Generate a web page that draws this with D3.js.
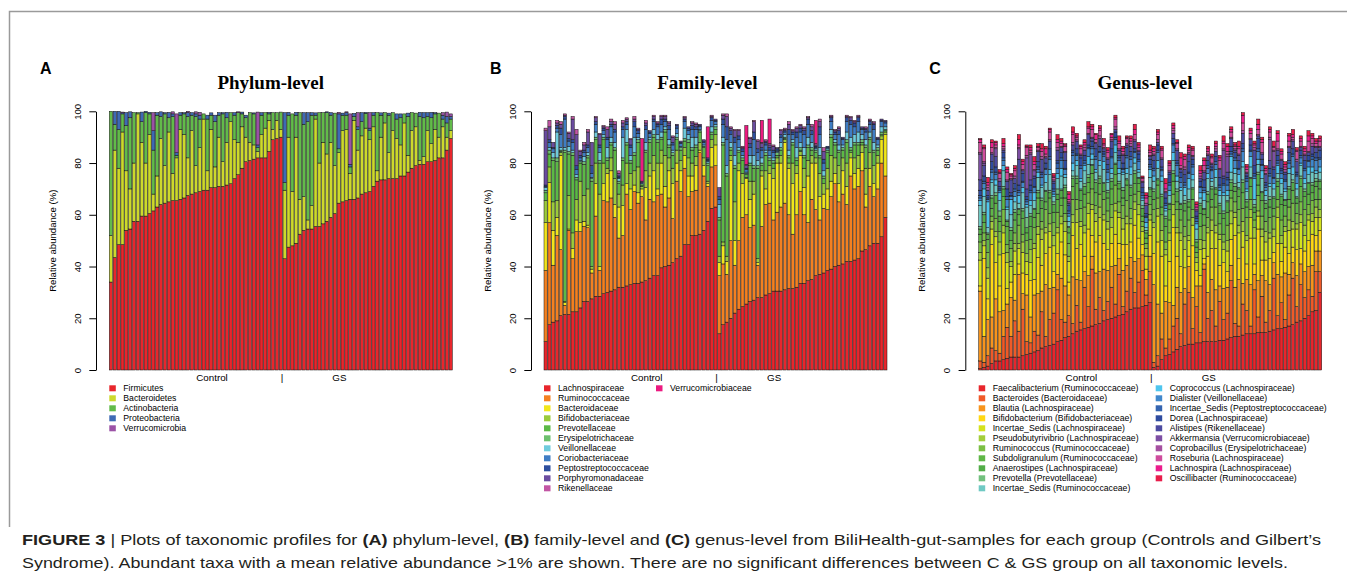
<!DOCTYPE html>
<html><head><meta charset="utf-8">
<script src="https://cdn.jsdelivr.net/npm/d3@7"></script>
<style>html,body{margin:0;padding:0;background:#fff;}svg{display:block;}</style>
</head><body><svg id="fig" width="1347" height="581"></svg>
<script>
// ---------------- DATA ----------------
const nControl = 45, nGS = 44;
const yTicks = [0, 20, 40, 60, 80, 100];
const groupLabels = ["Control", "|", "GS"];

// Panel A: phylum
const phylumNames = ["Firmicutes","Bacteroidetes","Actinobacteria","Proteobacteria","Verrucomicrobia"];
const phylumColors = ["#E8262C","#CDD92C","#62BB4A","#3E6AB5","#9B52A6"];
const firmicutes = [34,43.5,48.5,48.5,54,54.5,57.5,57.5,59.5,59.5,60.5,61.5,63,64,64.5,65,65.5,65.5,66,66.5,67.5,68,68.5,69,69.5,69.5,70.5,70.5,71,71,71.5,72,74,75.5,78,80.5,81,81.5,82,82,82,84.5,89,89.5,90,
 43,47.5,48,49,52.5,54,54.5,54.5,55.5,55.5,56.5,57.5,59,60.5,64.5,65,65.5,66,66,66.5,68,68.5,69,71,73,73.5,73.5,74,74,74,75,75,76.5,78,79,79.5,79.5,80.5,80.5,81,82,82,85,89.5];
const bacteroidetes = [18,41.5,29.5,43.5,23,15.5,22.5,41.5,28.5,20.5,30.5,6.5,12,25.5,14.5,27,10.5,16.5,27,24.5,14.5,24.5,10.5,17,27.5,7.5,22.5,8,19,9.5,16.5,24,15,12.5,16,9.5,7,5.5,2.5,9,11.5,12,4,7,3,
 26.5,42.5,21,41,13.5,13,3.5,9,41.5,24.5,31.5,26,29,18.5,19.5,27.5,27.5,10,30.5,18.5,22.5,25,20,23,4,16.5,22,10,18.5,15.5,12,20.5,6.5,14.5,15,1.5,3,12,7,12,8,12,5,3];
const actinobacteria = [48,10,15,7,17.5,27.5,19.5,0.5,8,19.5,8,17,23.5,8.5,20,5.5,22,1,5.5,8,16,6,19,11,2,20,5.5,17.5,8.5,18.5,9.5,3.5,9.5,11.5,5,7.5,11.5,12,1.5,7.5,6,2.5,6.5,3,6.7,
 3,8.5,30,8.5,33.5,28,38,35,1.5,19.5,11.5,16,10.5,20.3,1.5,6,5.5,2.5,1.5,8,5.5,5.7,3.5,4.5,22.5,8.5,4,14.5,7,7.5,10.5,3.5,15,7,5.3,17,15,5.5,10,6,9.3,3,5.5,4.5];
const proteobacteria = [0,5,7,0.5,5,2.3,0,0,3.7,0.5,0.6,7.5,1,1.8,0.5,2.1,1,1,1,0.5,1.5,1,1,1.5,0,1.5,0.9,2.5,1,0.5,2.1,0,1,0,0.7,1,0,0.4,1,1,0,0.6,0,0,0,
 27,1.1,0,1.1,0,4.5,3.5,1,0.9,0,0,0.3,1,0,13.5,0.8,1,1,1.2,1,3.5,0.4,1,1,0,0.9,0,0.8,0,2,1.5,0,1.3,0,0,1.6,2,1.5,2.1,0.5,0,1.5,2.5,1];
const verrucomicrobia = [0,0,0,0.2,0,0,0,0,0,0,0,7,0,0,0,0,0.8,15,0,0,0.5,0,0.8,1.1,0,0,0,0,0,0,0,0,0,0.3,0,0,0,0,12.7,0,0,0,0,0,0,
 0,0,0,0,0,0,0,0,0,0,0,0,0,0,0.6,0,0.3,19.5,0,5.5,0,0,6,0,0,0,0,0,0,0,0,0,0,0,0,0,0,0,0,0,0,1,1.7,1];

// Panel B: family
const familyNames = ["Lachnospiraceae","Ruminococcaceae","Bacteroidaceae","Bifidobacteriaceae","Prevotellaceae","Erysipelotrichaceae","Veillonellaceae","Coriobacteriaceae","Peptostreptococcaceae","Porphyromonadaceae","Rikenellaceae","Verrucomicrobiaceae"];
const familyColors = ["#E8262C","#F48021","#F1E61B","#9BCB3B","#5CB946","#6DC06E","#6FCBDC","#3F7DC4","#2D4E9E","#6B4CA0","#C255A4","#EC1A80"];
const lachnospiraceae = [11,17.5,18.5,19,21,21.5,21.5,22.5,22.5,24,26.5,26.5,27.5,28.5,28.5,29.5,30,30.5,31,32,32,32.5,33,33.5,33.5,34,34.5,35.5,36.5,36.5,39.5,40,40.5,41.5,43,44,48.5,48.5,52,52,52.5,54,57.5,62.5,63,
 14,17.5,18.5,20,22,23.5,24.5,25.5,26.5,27,28,28,29,29.5,30.5,30.5,30.5,31,31.5,31.5,32,33.5,33.5,34.5,35,36.5,37,37.5,38.5,39,40,40.5,41,42,42,42.5,43,46,46.5,48,49,49,51.5,59];
const ruminococcaceae = [27.5,39.5,22,33,25.5,3.5,32.5,20.5,31,29.5,29,28.5,10,31,10,36,35,36,28,19,20,35.5,29,35.5,31,33,23.5,30.5,28.5,31,28.5,23,26,17,30,25,29.5,18.5,17,17.5,31.5,21,13.5,16,16,
 22.5,23.5,18.5,30,18.5,26.5,34.5,34.5,28.5,29,12.5,27.5,35,35,27.5,30.5,32.5,33.5,28.5,21,28,35.5,26.5,22.5,31,25.5,21,25,23.5,28,32,24.5,27,22,33,27.5,28,31,16.5,23,18,21,28.5,16];
const bacteroidaceae = [18.5,15.5,13.5,7,36.5,1,0.5,4,4.5,3.5,2,1,1.5,12.5,1.5,6.5,11,10.5,5,12,11.5,4,8,2.5,4,3,12.5,9,12,2.5,12,8,10.5,13.5,7,8,5,8,6,9.5,1,4,1,7.5,8,
 5,7,5,31,9.5,27,13,14,11,12,1,19.5,6,11.5,16,19,17,23.5,18,19.5,16,14,10.5,18,14,18,9,5.5,8,6,4,7,9,7,7,6,7,7,5,7,5,10,9,16];
const bifidobacteriaceae = [8.5,6,11,6.5,1,0.5,13,6,8,16,10,14,1,8,28,8,2,5,10,5,8,8,6,5.5,10,1,6.5,5,6,10,5,12,5,6,5,4,3,7,5,3.5,3,3,1,3,4,
 2.5,1.5,2,2,15,3,4,0.5,7,5,1.5,2,7,3,4,2,3,1,2,8,3,1.5,7.5,6,3,2,9,4,8,10,6,7,5,9,2,6,5,3,10,6,7,3,1.5,1];
const prevotellaceae = [3,5,16,15,0.5,57.5,16,30,7.5,7,12,12,33,9,12,9,3,5,11,4,9.5,7,4,6,9.5,0.5,7,8,7,8,4,9,4,5,4,4,2.5,6,5,3.5,4,4,6,2,2,
 14,37.5,31,2,13,4,5,1,6,5,35,2,6,2,2,1,2,0.5,2,7,2,0.5,4,5,2,2,6,2,6,7,5,5,3,8,1,5,4,1,8,5,5,2,0.5,0.5];
const erysipelotrichaceae = [1,1.5,1,1.5,0.5,1,1,1,1,0.5,1,1,1,1,1,1,1,1,1,1,1,1,1,1,1,0.5,1,1,1,1,1,1,1,1,1,1,1,1,1,1,0.5,0.5,1,1,1,
 1,1,1,1,1,1,1,0.5,1,1,1,1,1,1,1,1,1,0.5,1,1,1,1,1,1,1,1,1,1,1,1,1,1,1,1,1,1,1,1,1,1,1,1,1,0.5];
const veillonellaceae = [1,1,2,10,1,1,2,1,1,0.5,2,1,0.5,2,3,1,4,2,2,1,8,5,2,6,1,0,3,1,2,2,2,1,2,1,1.5,0.5,4,2,4,3,0.5,0.5,0.5,2,1,
 5,2,3,2,4,1,1,0.5,3,4,2,2,1,1,1,0.5,2,1,2,1,4,2,3,3,2,0.5,3,2,0.5,2,1,2,1,3,4,3,4,2,2,2,3,1,2,1];
const coriobacteriaceae = [0.5,2,1.5,1.5,5,11,2,3,2,1,1.5,2,1.5,3,2,1.5,3,4,4,0.5,3,2,3,4,1.5,0.5,5,1.5,3,3,3,2,4,2,2,1,2.5,1.5,3,3,1,1,0.5,2.5,1,
 2,5,10,3,5,3,1.5,1,3,6,3,3,2,2,2,0.5,2,1,6,2,4,4,5,5,3,0.5,5,3,0.5,3,2,4,2,4,5,3,4,2,3,3,5,2,2,1.5];
const peptostreptococcaceae = [0.5,1,0.5,1,2.5,1,1,1,1.5,1,1,1,3,1,1,1,1,1,1,0.5,1,1,1,2,1,0,1.5,0.5,1,1,2,1,1.5,1,1,0.5,1,1,1.5,1,0.5,0.5,0.5,1,0.5,
 1,2,5,1.5,2,1.5,1,0.5,1.5,3,1.5,1,1,1,1,0.5,1,0.5,2,1,2,1.5,1.5,2,1.5,0.5,3,1.5,0.5,1.5,1,1.5,0.5,1.5,1.5,1.5,1.5,0.5,1,1,2,0.5,0.5,0.5];
const porphyromonadaceae = [21,5,2,1,1.5,0.5,2,8,12,1.5,2,5,9,1.5,4,0.5,3,1,2,1,1.5,1,2,1,0.5,0.5,1,0.5,1,0.5,1,1,1,2,0.5,0.5,0.5,0.5,1,1,0.5,0.5,0.5,0.5,0.5,
 3.5,1.5,4,1,2.5,2,0.5,1,2,4,3,1.5,0.5,1,1.5,0.5,1.5,0.5,2,0.5,1.5,1,1,0.5,1.5,0.5,2,3,0,0.5,0.5,1,0.5,0.5,1,0.5,0.5,0.5,0.5,0.5,0.5,0.5,0.5,0.5];
const rikenellaceae = [1,2.5,0,1,1,0.5,0.5,1,2,0.5,1,1,0,0.5,0.5,0.5,1,1,1,1,1,0.5,0.5,1,0.5,0,1,0,0.5,0.5,0.5,0.5,0.5,0.5,0,0,0.5,0,0.5,0.5,0,0,0,0.5,0,
 0,0.5,1,0.5,0.5,0.5,0.5,0.5,0.5,0.5,0.5,0.5,0.5,0.5,0.5,0,0.5,0.5,1,0.5,0.5,0.5,0.5,0.5,1,0.5,1,1.5,0,0.5,0.5,0.5,0,0.5,0.5,0.5,0.5,0,0.5,0.5,0.5,0,0,0];
const verrucomicrobiaceae = [0,0,0,0,0,0,0,0,0,0,0,0,0,0,0,0,0,0,0,0,0,0,0,0,0,16.5,0,0,0,0,0,0,0,0,0,0,0,0,0,0,0,0,12,0,0,
 0,0,0,0,0,0,0,15,0,0,0,8.5,0,9.5,0,0,0,0,0,0,0,0,0,0,0,9,0,0,0,0,0,0,0,0,0,0,0,0,0,0,0,0,0,0];

// Panel C: genus
const genusNames = ["Faecalibacterium (Ruminococcaceae)","Bacteroides (Bacteroidaceae)","Blautia (Lachnospiraceae)","Bifidobacterium (Bifidobacteriaceae)","Incertae_Sedis (Lachnospiraceae)","Pseudobutyrivibrio (Lachnospiraceae)","Ruminococcus (Ruminococcaceae)","Subdoligranulum (Ruminococcaceae)","Anaerostipes (Lachnospiraceae)","Prevotella (Prevotellaceae)","Incertae_Sedis (Ruminococcaceae)","Coprococcus (Lachnospiraceae)","Dialister (Veillonellaceae)","Incertae_Sedis (Peptostreptococcaceae)","Dorea (Lachnospiraceae)","Alistipes (Rikenellaceae)","Akkermansia (Verrucomicrobiaceae)","Coprobacillus (Erysipelotrichaceae)","Roseburia (Lachnospiraceae)","Lachnospira (Lachnospiraceae)","Oscillibacter (Ruminococcaceae)"];
const genusColors = ["#E8262C","#F05A28","#F7941D","#FFD814","#D4E21E","#A3CE3A","#7BBF44","#5FB747","#52AD48","#72C07E","#6FC9C3","#4EC5EE","#4088CC","#3464B0","#2E4B9F","#4C4AA0","#7D4EA3","#A54FA0","#CF4C9D","#EC1C8C","#E81D4B"];
const faecalibacterium = [0.5,1,1.5,2.5,3.5,3.5,4,4.5,5,5,5,5.5,6,6.5,7,7.5,8.5,9,9.5,10,11,11.5,12.5,13,14,15,15.5,16,16.5,17,17.5,18,19,19.5,20,20.5,21,21.5,22.5,23.5,24,24,24.5,25,26,
 1,1.5,4,5.5,6,7,8,9,9.5,10,10,10.5,10.5,11,11,11,11,11.5,11.5,12,12.5,13,13,13.5,14,14,14,14.5,14.5,14.5,15,15.5,16,16,16.5,17,17.5,18.5,19,20,21,22.5,23,30];
const bacteroides = [3,2,4,6,4,3,9,12,8,14,10,18,5,4,8,6,14,4,10,12,20,8,6,8,4,10,3,16,8,22,6,10,4,7,12,5,16,3,8,12,6,10,14,4,12,
 2,4,8,3,6,10,12,5,16,20,6,14,4,28,9,12,6,15,8,10,22,5,4,12,9,3,17,6,14,4,8,20,5,10,3,12,18,6,14,8,10,6,15,8];
const blautia = [27,10,14,12,20,16,10,9,15,8,22,6,18,10,14,16,8,20,12,10,6,16,14,8,18,10,16,6,12,5,14,10,16,12,8,15,6,14,10,8,12,9,6,6,6,
 30,20,10,18,14,8,12,16,6,10,12,8,18,2,10,12,14,6,12,10,6,14,18,8,12,16,6,14,8,16,10,6,16,10,18,8,6,12,8,10,9,12,8,8];
const bifidobacterium = [2,30,8,28,14,10,22,6,6,10,4,8,8,14,6,14,10,12,16,6,8,14,12,5,16,12,14,6,18,8,12,14,10,8,9,12,6,10,8,6,14,8,4,4,8,
 12,24,22,6,16,30,12,10,8,4,20,6,4,2,14,12,16,8,10,6,10,20,8,14,6,18,4,20,6,8,10,4,12,6,10,8,6,10,6,8,10,12,6,8];
const incertaeLachno = [10,5,8,6,10,12,8,10,6,9,6,8,5,7,12,9,10,8,6,10,8,7,9,8,5,10,7,9,6,10,8,7,9,8,6,9,10,6,8,7,6,9,5,5,6,
 10,10,6,12,8,5,9,10,7,6,8,3,10,4,9,7,6,10,5,8,6,7,10,6,9,8,10,5,9,7,8,6,10,7,6,9,7,8,10,6,8,5,7,5];
const pseudobutyrivibrio = [3,2,4,3,2,5,3,4,2,3,2,4,3,5,2,3,4,2,3,4,2,3,4,2,3,5,2,3,4,2,3,4,2,3,4,3,2,4,3,2,3,4,2,3,2,
 2,3,4,2,3,4,2,3,5,2,3,2,4,3,2,4,3,2,3,4,5,2,3,4,2,3,4,2,3,4,2,3,4,3,2,4,3,2,3,4,2,3,4,3];
const ruminococcus = [4,3,6,2,5,4,6,3,5,4,7,3,5,4,6,5,3,7,4,5,6,4,3,5,6,4,5,7,4,6,3,5,6,4,5,7,4,5,6,4,3,5,2,2,4,
 5,4,6,3,5,4,7,5,4,6,3,2,5,6,4,5,7,4,3,6,5,4,6,5,7,4,3,6,5,4,6,5,3,6,4,5,7,4,5,6,4,5,3,4];
const subdoligranulum = [3,4,5,3,6,4,5,7,3,5,4,6,3,5,4,6,5,3,6,4,5,3,6,4,5,6,3,5,4,6,5,4,3,5,6,4,5,3,6,5,4,3,2,2,3,
 4,5,3,6,4,5,3,4,6,5,4,2,5,4,6,3,5,4,6,5,3,4,5,6,4,5,3,4,6,5,4,3,5,6,4,3,5,4,6,5,4,3,5,4];
const anaerostipes = [2,3,2,4,3,2,3,2,4,3,2,3,2,4,3,2,3,4,2,3,2,3,4,2,3,2,4,3,2,3,4,2,3,2,3,4,2,3,2,3,4,2,3,2,3,
 3,2,4,3,2,3,4,2,3,2,4,2,3,2,3,4,2,3,2,4,3,2,3,4,2,3,2,4,3,2,3,4,2,3,2,4,3,2,3,2,4,3,2,3];
const prevotella = [1,1,0.5,1,1,2,1,0.5,1,1,0.5,1,4,1,0.5,1,1,0.5,1,1,2,0.5,1,0.5,1,1,0.5,1,1,0.5,1,1,0.5,1,1,0.5,1,1,0.5,1,1,0.5,1,1,0.5,
 1,0.5,1,1,0.5,1,1,0.5,1,1,0.5,1,1,0.5,1,1,0.5,1,1,0.5,1,1,0.5,1,1,0.5,1,1,0.5,1,1,0.5,1,1,0.5,1,1,0.5,1,1,0.5,1,1,0.5];
const incertaeRumino = [8,6,2,5,3,4,6,4,5,3,2,6,4,3,3,5,4,3,6,2,4,5,3,2,2,4,3,5,4,2,3,4,5,3,2,4,3,5,2,4,3,2,2,1,4,
 3,4,5,2,3,4,3,5,2,4,3,4,2,3,5,2,4,3,6,2,3,4,2,5,3,4,2,3,5,2,4,3,2,4,3,5,2,3,4,2,3,4,2,3];
const coprococcus = [2,3,10,1,2,3,2,1,6,2,3,2,1,2,3,2,1,3,2,1,2,3,1,2,3,2,1,2,3,2,1,2,3,1,2,3,2,1,2,3,2,1,1,2,3,
 2,3,2,1,2,3,2,1,3,4,2,2,2,3,2,1,3,2,1,2,6,2,3,2,1,4,8,2,3,2,1,2,3,2,1,2,3,2,1,2,3,2,1,2];
const dialister = [1,2,1,3,2,1,2,3,1,2,1,2,1,3,2,1,3,2,4,1,2,3,2,1,3,2,4,1,3,2,4,3,2,3,4,2,3,1,4,3,2,3,1,2,1,
 2,3,2,1,2,3,4,2,1,2,3,1,2,1,2,3,2,1,3,2,1,3,2,4,3,2,1,3,2,1,3,2,1,2,3,2,4,3,2,3,2,3,4,3];
const incertaePepto = [1,1,0.5,1,1,0.5,1,1,0.5,1,1,0.5,1,1,0.5,1,1,0.5,1,1,2,1,0.5,1,1,0.5,1,1,0.5,1,1,0.5,1,1,0.5,1,1,0.5,1,1,0.5,1,1,0.5,1,
 1,1,0.5,1,1,0.5,1,2,1,0.5,1,1,0.5,1,1,0.5,1,1,0.5,2,1,1,0.5,1,1,0.5,1,1,0.5,1,1,0.5,1,1,0.5,1,1,0.5,1,1,0.5,1,1,0.5];
const dorea = [2,2,1,3,2,1,2,3,1,2,2,3,1,2,3,2,1,2,3,2,1,2,3,2,1,2,3,2,1,2,3,2,1,2,3,2,1,2,3,2,1,2,2,1,2,
 3,2,1,2,3,2,1,2,3,4,2,1,2,3,2,1,2,3,2,1,2,2,3,2,1,2,3,4,2,1,2,3,2,1,2,3,2,1,2,3,2,1,2,3];
const alistipes = [4,4,2,3,4,2,1,3,5,2,10,1,3,2,1,4,5,2,3,1,4,2,3,1,2,3,1,2,4,1,2,3,1,2,3,1,2,3,1,2,3,1,2,3,1,
 2,1,3,2,1,2,4,1,2,3,1,2,1,3,2,1,2,3,1,2,3,1,2,4,1,2,6,1,2,3,3,1,2,3,1,2,3,4,1,2,1,3,2,1];
const akkermansia = [10,1,0,0,3,0,0,0,0,0,4,0,12,10,2,0,0,0,0,0,0,0,0,0,0,0,0,0,0,0,0,0,0,0,0,0,0,0,0,0,0,0,0,0,0,
 0,0,0,0,0,0,0,0,0,0,0,0,0,0,0,0,0,0,10,6,0,0,0,0,0,0,0,0,0,0,8,6,0,0,0,0,0,0,0,0,0,0,0,0];
const coprobacillus = [0.5,0.5,1,0.5,0.5,1,0.5,0.5,0.5,1,0.5,0.5,1,0.5,0.5,0.5,1,0.5,0.5,0.5,1,0.5,0.5,0.5,1,0.5,0.5,1,0.5,0.5,0.5,1,0.5,0.5,0.5,1,0.5,0.5,0.5,1,0.5,0.5,0.5,1,0.5,
 0.5,1,0.5,0.5,0.5,1,0.5,0.5,1,0.5,0.5,0.5,1,0.5,0.5,0.5,1,0.5,0.5,1,0.5,0.5,0.5,1,0.5,0.5,1,0.5,0.5,0.5,1,0.5,0.5,0.5,1,0.5,0.5,1,0.5,0.5,0.5,1,0.5,0.5];
const roseburia = [4,5,1,2,1,2,1,3,1,2,1,2,3,1,2,1,2,1,3,1,2,1,2,1,3,1,2,1,2,3,1,2,1,2,1,3,2,1,2,1,2,1,1,2,1,
 1,2,3,1,2,1,2,1,3,1,2,1,1,2,1,2,1,3,2,1,2,1,2,3,1,2,1,2,4,1,2,1,3,2,1,2,1,3,2,1,4,2,1,2];
const lachnospira = [1,0.5,1,2,1,0.5,1,1,0.5,1,2,1,0.5,1,1,0.5,1,2,1,0.5,1,1,0.5,2,1,0.5,1,1,0.5,1,2,1,0.5,1,1,0.5,1,1,0.5,1,2,1,0.5,1,1,
 1,1,0.5,2,1,1,0.5,3,1,1,0.5,1,1,2,1,0.5,1,1,1,2,1,0.5,1,3,1,1,0.5,2,1,1,1,0.5,3,1,1,2,1,0.5,1,1,2,1,1,1];
const oscillibacter = [0.5,1,2,1,0.5,1,2,1,0.5,1,2,1,0.5,1,2,1,2,1,0.5,1,2,1,0.5,1,2,1,0.5,1,2,1,0.5,1,2,1,0.5,1,2,1,0.5,1,2,1,0.5,1,2,
 1,1,1,2,1,1,1,2,1,1,1,1,2,1,1,1,1,1,2,1,1,1,2,1,1,1,1,2,1,1,1,2,1,1,1,1,2,1,1,1,2,1,1,1];

const captionLine1 = [["FIGURE 3",true],[" | Plots of taxonomic profiles for ",false],["(A)",true],[" phylum-level, ",false],["(B)",true],[" family-level and ",false],["(C)",true],[" genus-level from BiliHealth-gut-samples for each group (Controls and Gilbert\u2019s",false]];
const captionLine2 = [["Syndrome). Abundant taxa with a mean relative abundance >1% are shown. There are no significant differences between C & GS group on all taxonomic levels.",false]];

// ---------------- DRAWING ----------------
const sampleIds = d3.range(nControl).map(i => "C" + (i + 1)).concat(d3.range(nGS).map(i => "GS" + (i + 1)));
const SANS = "'Liberation Sans', Arial, Helvetica, sans-serif";
const svg = d3.select("#fig");
svg.append("rect").attr("width", 1347).attr("height", 581).attr("fill", "#fff");
svg.append("path").attr("d", "M9.5,527V11.5H1347").attr("fill", "none").attr("stroke", "#9a9a9a").attr("stroke-width", 1.5);

const panels = [
  { letter: "A", title: "Phylum-level", names: phylumNames, colors: phylumColors,
    series: [firmicutes, bacteroidetes, actinobacteria, proteobacteria, verrucomicrobia],
    letterX: 40, axisX: 96, x0: 109.3, x1: 452.3, titleX: 270.7, col1: 11, col2dx: 112 },
  { letter: "B", title: "Family-level", names: familyNames, colors: familyColors,
    series: [lachnospiraceae, ruminococcaceae, bacteroidaceae, bifidobacteriaceae, prevotellaceae, erysipelotrichaceae, veillonellaceae, coriobacteriaceae, peptostreptococcaceae, porphyromonadaceae, rikenellaceae, verrucomicrobiaceae],
    letterX: 490, axisX: 531, x0: 544, x1: 887, titleX: 707.3, col1: 11, col2dx: 112 },
  { letter: "C", title: "Genus-level", names: genusNames, colors: genusColors,
    series: [faecalibacterium, bacteroides, blautia, bifidobacterium, incertaeLachno, pseudobutyrivibrio, ruminococcus, subdoligranulum, anaerostipes, prevotella, incertaeRumino, coprococcus, dialister, incertaePepto, dorea, alistipes, akkermansia, coprobacillus, roseburia, lachnospira, oscillibacter],
    letterX: 929.3, axisX: 965.3, x0: 978.7, x1: 1321.7, titleX: 1145, col1: 11, col2dx: 177 }
];

const y = d3.scaleLinear().domain([0, 100]).range([370, 111.3]);
const groupPos = [26.6, 44.7, 59.6]; // in bar steps from left edge

panels.forEach(p => {
  const g = svg.append("g");
  const rows = sampleIds.map((id, i) => { const r = { id }; p.names.forEach((k, j) => r[k] = p.series[j][i]); return r; });
  const stacked = d3.stack().keys(p.names)(rows);
  const x = d3.scaleBand().domain(sampleIds).range([p.x0, p.x1]).paddingInner(0.17).paddingOuter(0);

  g.selectAll("g.layer").data(stacked).join("g").attr("class", "layer")
    .attr("fill", (d, i) => p.colors[i])
    .selectAll("rect").data(d => d.filter(s => s[1] - s[0] > 0)).join("rect")
    .attr("x", d => x(d.data.id)).attr("width", x.bandwidth())
    .attr("y", d => y(d[1])).attr("height", d => y(d[0]) - y(d[1]))
    .attr("stroke", "#111").attr("stroke-width", 0.5);

  // y axis
  const ag = g.append("g").attr("transform", `translate(${p.axisX},0)`)
    .call(d3.axisLeft(y).tickValues(yTicks).tickSize(6.7).tickSizeOuter(0));
  ag.select(".domain").attr("stroke", "#000");
  ag.selectAll(".tick line").attr("stroke", "#000");
  ag.selectAll(".tick text").attr("transform", "rotate(-90)").attr("x", 0).attr("y", -15.5)
    .attr("dy", "0").attr("text-anchor", "middle").attr("fill", "#000")
    .style("font-family", SANS).style("font-size", "9.6px");
  g.append("text").attr("transform", `translate(${p.axisX - 40},${(y(0) + y(100)) / 2}) rotate(-90)`)
    .attr("text-anchor", "middle").attr("font-family", SANS).attr("font-size", 9.6).text("Relative abundance (%)");

  // title and letter
  g.append("text").attr("x", p.titleX).attr("y", 89).attr("text-anchor", "middle")
    .attr("font-family", "'Liberation Serif', 'Times New Roman', serif").attr("font-weight", "bold").attr("font-size", 19)
    .text(p.title);
  g.append("text").attr("x", p.letterX).attr("y", 74).attr("font-family", SANS).attr("font-weight", "bold")
    .attr("font-size", 16).text(p.letter);

  // group labels
  g.selectAll("text.grp").data(groupLabels).join("text").attr("class", "grp")
    .attr("x", (d, i) => p.x0 + groupPos[i] * x.step()).attr("y", 381)
    .attr("text-anchor", "middle").attr("font-family", SANS).attr("font-size", 9.8).text(d => d);

  // legend
  const lg = g.append("g");
  p.names.forEach((n, i) => {
    const col = Math.floor(i / p.col1), row = i % p.col1;
    const lx = p.x0 + col * p.col2dx, cy = 388.3 + row * 10;
    lg.append("rect").attr("x", lx).attr("y", cy - 3).attr("width", 6.5).attr("height", 6).attr("fill", p.colors[i]);
    lg.append("text").attr("x", lx + 14).attr("y", cy + 3).attr("font-family", SANS).attr("font-size", 8.7).text(n);
  });
});

// caption
function caption(parts, yy, len) {
  const t = svg.append("text").attr("x", 22).attr("y", yy).attr("font-family", SANS).attr("font-size", 15)
    .attr("fill", "#231f20").attr("textLength", len).attr("lengthAdjust", "spacingAndGlyphs");
  parts.forEach(([s, b]) => t.append("tspan").attr("font-weight", b ? "bold" : "normal").text(s));
}
caption(captionLine1, 545, 1299);
caption(captionLine2, 568, 1266);
</script></body></html>
